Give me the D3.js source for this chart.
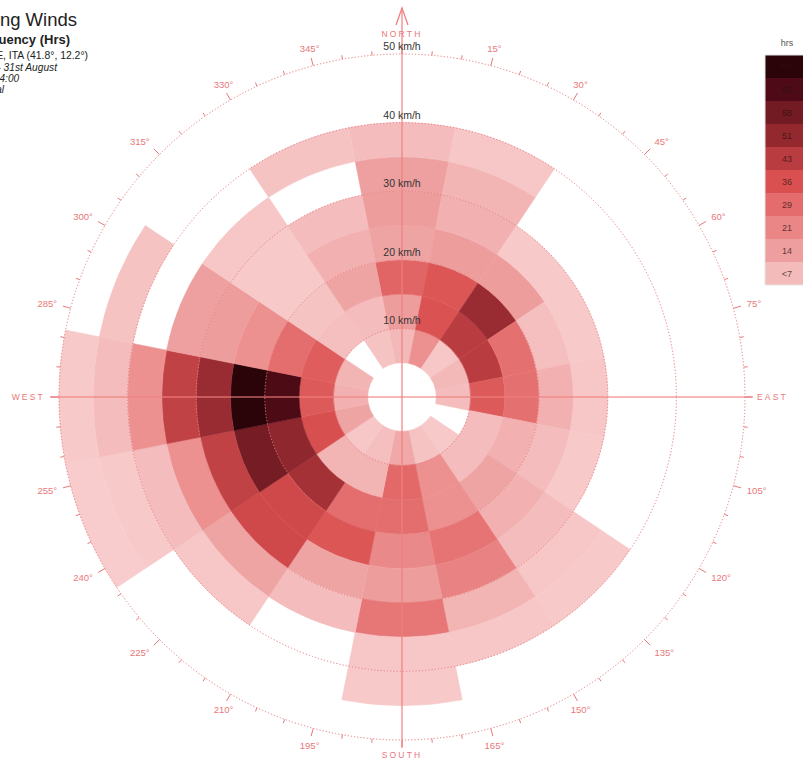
<!DOCTYPE html>
<html>
<head>
<meta charset="utf-8">
<script src="https://cdn.jsdelivr.net/npm/d3@7"></script>
<style>
  html, body { margin: 0; padding: 0; background: #ffffff; }
  svg { display: block; }
  text { font-family: "Liberation Sans", Arial, sans-serif; }
</style>
</head>
<body>
<svg id="chart" width="803" height="769"></svg>
<script>
// Wind directions (16 compass points, clockwise from north)
const directions = ["N","NNE","NE","ENE","E","ESE","SE","SSE","S","SSW","SW","WSW","W","WNW","NW","NNW"];

// Speed bin edges in km/h; calm (< 5 km/h) is the empty centre
const speedEdges = [5, 10, 15, 20, 25, 30, 35, 40, 45, 50];

// Hours per speed bin for each direction (null = no hours recorded)
const hoursN   = [8, 15, 31, 13, 15, 14, 7, null, null];
const hoursNNE = [19, 36, 35, 15, 10, 9, 4, null, null];
const hoursNE  = [4, 44, 50, 15, 3, null, null, null, null];
const hoursENE = [8, 44, 28, 6, 3, null, null, null, null];
const hoursE   = [7, 34, 28, 10, 4, null, null, null, null];
const hoursESE = [null, 7, 10, 7, 3, null, null, null, null];
const hoursSE  = [3, 7, 13, 10, 7, 4, 3, null, null];
const hoursSSE = [5, 19, 19, 27, 23, 9, 4, null, null];
const hoursS   = [12, 30, 29, 21, 15, 26, 4, 3, null];
const hoursSSW = [6, 9, 29, 35, 13, 7, null, null, null];
const hoursSW  = [4, 9, 48, 39, 39, 13, 4, null, null];
const hoursWSW = [13, 37, 52, 58, 42, 19, 7, 3, 2];
const hoursW   = [10, 34, 66, 73, 50, 42, 19, 7, 3];
const hoursWNW = [9, 33, 29, 19, 15, 14, null, 5, null];
const hoursNW  = [null, 6, 5, 3, 3, 4, null, null, null];
const hoursNNW = [5, 7, 13, 10, 7, null, 5, null, null];

const hoursByDirection = [hoursN, hoursNNE, hoursNE, hoursENE, hoursE, hoursESE, hoursSE, hoursSSE,
                          hoursS, hoursSSW, hoursSW, hoursWSW, hoursW, hoursWNW, hoursNW, hoursNNW];

// Colour ramp (hours -> colour)
const colorStops = [0, 7.3, 14.6, 21.9, 29.2, 36.5, 43.8, 51.1, 58.4, 65.7, 73];
const colorRange = ["#fad3d3", "#f4bbbb", "#ee9e9e", "#ea8686", "#e46c6c", "#da5050",
                    "#b93d40", "#93292f", "#731b23", "#4e0b17", "#2a0409"];

// Legend entries, top to bottom
const legendValues = [73, 65.7, 58.4, 51.1, 43.8, 36.5, 29.2, 21.9, 14.6, 7.3];
const legendLabels = ["73+", "65", "58", "51", "43", "36", "29", "21", "14", "<7"];

// Speed ring labels and compass labels
const speedLabels = [10, 20, 30, 40, 50];
const cardinalLabels = [
  { deg: 0, text: "NORTH" }, { deg: 90, text: "EAST" },
  { deg: 180, text: "SOUTH" }, { deg: 270, text: "WEST" }
];

// Header text
const titleLines = [
  { text: "Prevailing Winds", size: 18.5, weight: "normal", style: "normal", x: 77, y: 26 },
  { text: "Wind Frequency (Hrs)", size: 13, weight: "bold", style: "normal", x: 70, y: 44 },
  { text: "ROME, ITA (41.8°, 12.2°)", size: 10.4, weight: "normal", style: "normal", x: 88, y: 59 },
  { text: "1st June - 31st August", size: 10.2, weight: "normal", style: "italic", x: 57, y: 71 },
  { text: "00:00 - 24:00", size: 10, weight: "normal", style: "italic", x: 19, y: 82 },
  { text: "Total", size: 10, weight: "normal", style: "italic", x: 4, y: 93 }
];

const svg = d3.select("#chart");
const cx = 402, cy = 397;
const accent = "#e8787a";

const rScale = d3.scaleLinear().domain([0, 50]).range([0, 343]);
const color = d3.scaleLinear().domain(colorStops).range(colorRange).clamp(true);
const rad = d => d * Math.PI / 180;
const sectorWidth = 360 / directions.length;

const g = svg.append("g").attr("transform", `translate(${cx},${cy})`);

// Cells
const cells = [];
hoursByDirection.forEach((vals, di) => {
  vals.forEach((v, si) => {
    if (v == null) return;
    cells.push({ dir: directions[di], angle: di * sectorWidth, lo: speedEdges[si], hi: speedEdges[si + 1], hours: v });
  });
});

const arc = d3.arc()
  .innerRadius(d => rScale(d.lo))
  .outerRadius(d => rScale(d.hi))
  .startAngle(d => rad(d.angle - sectorWidth / 2))
  .endAngle(d => rad(d.angle + sectorWidth / 2));

g.append("g").selectAll("path").data(cells).join("path")
  .attr("d", arc)
  .attr("fill", d => color(d.hours))
  .attr("stroke", d => color(d.hours))
  .attr("stroke-width", 0.5);

// Dotted speed rings
g.append("g").selectAll("circle").data(speedLabels).join("circle")
  .attr("r", d => rScale(d))
  .attr("fill", "none")
  .attr("stroke", accent)
  .attr("stroke-width", 1)
  .attr("stroke-dasharray", "1.2,2");

// Compass axes
g.append("line").attr("x1", 0).attr("x2", 0).attr("y1", 8 - cy).attr("y2", 747 - cy)
  .attr("stroke", "#f08080").attr("stroke-width", 1.6).attr("opacity", 0.75);
g.append("line").attr("y1", 0).attr("y2", 0).attr("x1", 50 - cx).attr("x2", 752 - cx)
  .attr("stroke", "#f08080").attr("stroke-width", 1.6).attr("opacity", 0.75);

// North arrow
g.append("path")
  .attr("d", `M-6,${25 - cy} L0,${8 - cy} L6,${25 - cy}`)
  .attr("fill", "none").attr("stroke", "#f08080").attr("stroke-width", 1.3);

// Degree ticks on the outer ring
const tickDegs = d3.range(0, 360, 5);
const R = rScale(50);
g.append("g").selectAll("line").data(tickDegs).join("line")
  .attr("x1", d => R * Math.sin(rad(d)))
  .attr("y1", d => -R * Math.cos(rad(d)))
  .attr("x2", d => (R + (d % 15 === 0 ? 8 : 4)) * Math.sin(rad(d)))
  .attr("y2", d => -(R + (d % 15 === 0 ? 8 : 4)) * Math.cos(rad(d)))
  .attr("stroke", accent).attr("stroke-width", 1);

// Degree labels
const degLabels = d3.range(15, 360, 15).filter(d => d % 90 !== 0);
g.append("g").selectAll("text").data(degLabels).join("text")
  .attr("x", d => 357 * Math.sin(rad(d)))
  .attr("y", d => -357 * Math.cos(rad(d)) - 4 * Math.cos(rad(d)))
  .attr("dy", "0.35em")
  .attr("text-anchor", d => {
    const s = Math.sin(rad(d));
    return s > 0.6 ? "start" : (s < -0.6 ? "end" : "middle");
  })
  .attr("font-size", 9.5)
  .attr("fill", accent)
  .text(d => d + "°");

// Cardinal labels
const cardPos = {
  0: { x: 0, y: 34 - cy, anchor: "middle" },
  90: { x: 757 - cx, y: 0, anchor: "start" },
  180: { x: 0, y: 755 - cy, anchor: "middle" },
  270: { x: 45 - cx, y: 0, anchor: "end" }
};
g.append("g").selectAll("text").data(cardinalLabels).join("text")
  .attr("x", d => cardPos[d.deg].x)
  .attr("y", d => cardPos[d.deg].y)
  .attr("dy", "0.35em")
  .attr("text-anchor", d => cardPos[d.deg].anchor)
  .attr("font-size", 8.5)
  .attr("letter-spacing", 2.2)
  .attr("fill", accent)
  .text(d => d.text);

// Speed labels along the north axis
g.append("g").selectAll("text").data(speedLabels).join("text")
  .attr("x", 0)
  .attr("y", d => -rScale(d) - 4)
  .attr("text-anchor", "middle")
  .attr("font-size", 10.5)
  .attr("fill", "#333")
  .text(d => d + " km/h");

// Legend
const legend = svg.append("g").attr("transform", "translate(765,55)");
const cellH = 23, cellW = 44;
legend.append("text").attr("x", cellW / 2).attr("y", -9)
  .attr("text-anchor", "middle").attr("font-size", 9).attr("fill", "#555").text("hrs");
legend.selectAll("rect").data(legendValues).join("rect")
  .attr("x", 0).attr("y", (d, i) => i * cellH)
  .attr("width", cellW).attr("height", cellH)
  .attr("fill", d => color(d));
legend.append("rect").attr("x", 0).attr("y", 0).attr("width", cellW).attr("height", cellH * legendValues.length)
  .attr("fill", "none").attr("stroke", "#e4e4e4").attr("stroke-width", 1);
legend.selectAll("text.lbl").data(legendLabels).join("text")
  .attr("class", "lbl")
  .attr("x", cellW / 2).attr("y", (d, i) => i * cellH + cellH / 2)
  .attr("dy", "0.35em").attr("text-anchor", "middle")
  .attr("font-size", 9).attr("fill", "#2a1010").attr("opacity", 0.7)
  .text(d => d);

// Header
svg.append("g").selectAll("text").data(titleLines).join("text")
  .attr("x", d => d.x).attr("y", d => d.y)
  .attr("text-anchor", "end")
  .attr("font-size", d => d.size)
  .attr("font-weight", d => d.weight)
  .attr("font-style", d => d.style)
  .attr("fill", "#222")
  .text(d => d.text);
</script>
</body>
</html>
